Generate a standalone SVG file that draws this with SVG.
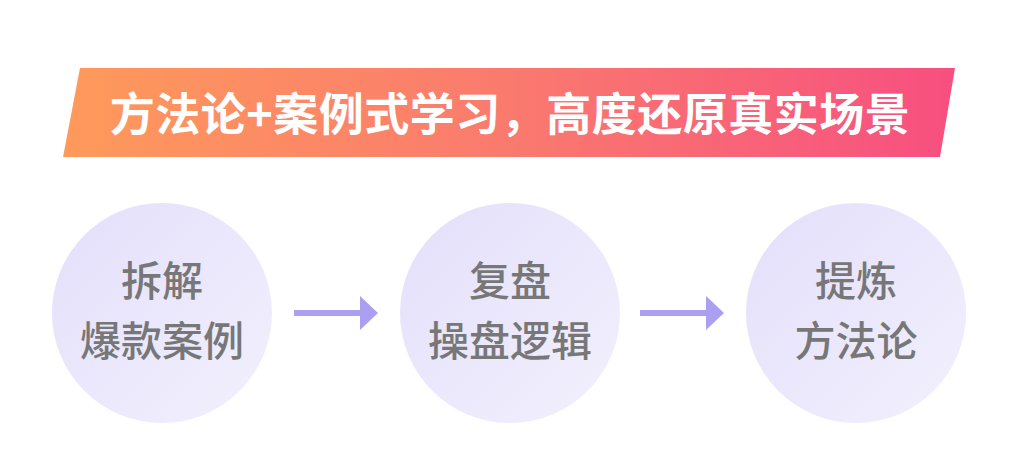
<svg xmlns="http://www.w3.org/2000/svg" width="1024" height="470" viewBox="0 0 1024 470">
<defs>
<linearGradient id="bg" x1="0" y1="0" x2="1" y2="0">
<stop offset="0" stop-color="#FE9A5B"/>
<stop offset="0.5" stop-color="#FA7A6E"/>
<stop offset="1" stop-color="#F74F80"/>
</linearGradient>
<linearGradient id="cg" x1="0" y1="0" x2="1" y2="1">
<stop offset="0" stop-color="#E4DFFB"/>
<stop offset="1" stop-color="#F2F0FD"/>
</linearGradient>
<marker id="ah" markerWidth="18" markerHeight="34" refX="0" refY="17" markerUnits="userSpaceOnUse" orient="auto">
<path d="M0,0 L18,17 L0,34 Z" fill="#AB9FF2"/>
</marker>
<style>
.title{font-family:"Noto Sans CJK SC","Noto Sans",sans-serif;font-weight:bold;font-size:45px;letter-spacing:0.5px;fill:#fff;text-anchor:middle}
.lbl{font-family:"Noto Sans CJK SC","Noto Sans",sans-serif;font-weight:500;font-size:41px;fill:#777777;text-anchor:middle}
.c{fill:url(#cg)}
.conn{stroke:#AB9FF2;stroke-width:6;fill:none}
</style>
</defs>
<rect width="1024" height="470" fill="#fff"/>
<g id="banner">
<path d="M80,68 L955,68 L940,157 L63,157 Z" fill="url(#bg)"/>
<text class="title" x="510" y="131">方法论+案例式学习，高度还原真实场景</text>
</g>
<g id="node1">
<circle class="c" cx="162" cy="313" r="110"/>
<text class="lbl" x="162" y="296">拆解</text>
<text class="lbl" x="162" y="356">爆款案例</text>
</g>
<g id="node2">
<circle class="c" cx="510" cy="313" r="110"/>
<text class="lbl" x="510" y="296">复盘</text>
<text class="lbl" x="510" y="356">操盘逻辑</text>
</g>
<g id="node3">
<circle class="c" cx="856" cy="313" r="110"/>
<text class="lbl" x="856" y="296">提炼</text>
<text class="lbl" x="856" y="356">方法论</text>
</g>
<g id="connectors">
<line class="conn" x1="294" y1="313" x2="360" y2="313" marker-end="url(#ah)"/>
<line class="conn" x1="640" y1="313" x2="706" y2="313" marker-end="url(#ah)"/>
</g>
</svg>
